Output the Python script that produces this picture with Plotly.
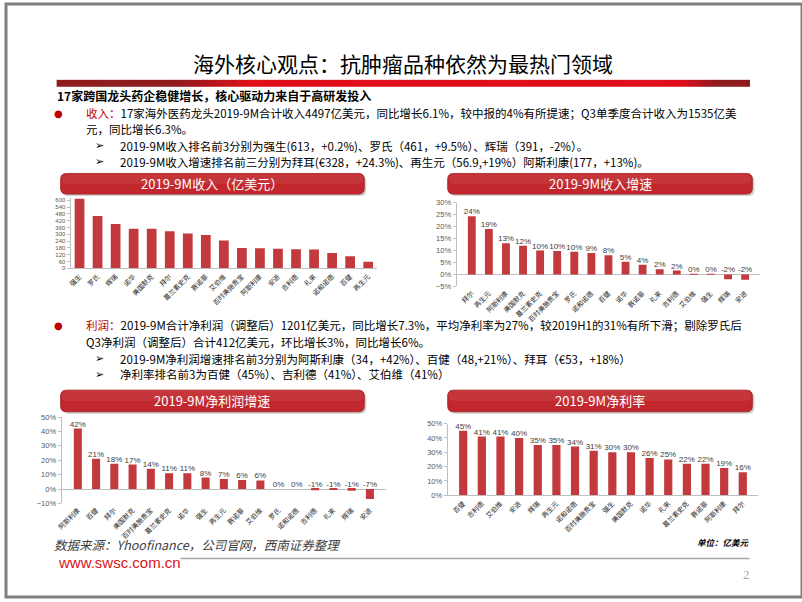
import plotly.graph_objects as go
import numpy as np

W, H = 802, 602
RED = "#C23A3D"

# ---------------- data ----------------
rev_names = ["强生", "罗氏", "辉瑞", "诺华", "美国默克", "拜尔", "葛兰素史克", "赛诺菲", "艾伯维",
             "百时美施贵宝", "阿斯利康", "安进", "吉利德", "礼来", "诺和诺德", "百健", "再生元"]
rev_values = [613, 461, 391, 350, 349, 328, 308, 293, 246, 180, 177, 173, 168, 165, 136, 107, 57]

growth_names = ["拜尔", "再生元", "阿斯利康", "美国默克", "葛兰素史克", "百时美施贵宝", "罗氏", "诺和诺德",
                "百健", "诺华", "赛诺菲", "礼来", "吉利德", "艾伯维", "强生", "辉瑞", "安进"]
growth_values = [24.3, 19.0, 13.0, 12.0, 10.0, 9.8, 9.5, 9.0, 8.0, 5.3, 4.1, 2.2, 1.6, 0.3, 0.2, -2.0, -2.2]

np_growth_names = ["阿斯利康", "百健", "拜尔", "美国默克", "百时美施贵宝", "葛兰素史克", "诺华", "强生",
                   "再生元", "赛诺菲", "艾伯维", "罗氏", "诺和诺德", "吉利德", "礼来", "辉瑞", "安进"]
np_growth_values = [42, 21, 17.6, 17, 14, 11, 11, 8, 7, 6.3, 6, 0, 0, -0.8, -0.7, -1.2, -7]

margin_names = ["百健", "吉利德", "艾伯维", "安进", "辉瑞", "再生元", "诺和诺德", "百时美施贵宝", "强生",
                "美国默克", "诺华", "礼来", "葛兰素史克", "赛诺菲", "阿斯利康", "拜尔"]
margin_values = [45, 41, 41, 40, 35, 35, 34, 31, 30, 30, 26, 25, 22, 22, 19, 16]

chart_titles = ["2019-9M收入（亿美元）", "2019-9M收入增速", "2019-9M净利润增速", "2019-9M净利率"]


def fx(x):
    return x / W


def fy(y):
    return 1 - y / H


fig = go.Figure()

# (names, values, x px span, y px span (top,bottom), range, dtick, suffix, labels, gap, y tick font)
charts = [
    (rev_names, rev_values, (65, 374), (197, 268.3), [0, 620], 60, "", False, 0.46, 6),
    (growth_names, growth_values, (454, 760), (201.7, 286.7), [-5, 30], 5, "%", True, 0.54, 7.5),
    (np_growth_names, np_growth_values, (56, 383), (419.3, 507), [-10, 50], 10, "%", True, 0.56, 7.5),
    (margin_names, margin_values, (445, 758), (426, 498.7), [0, 50], 10, "%", True, 0.56, 7.5),
]

layout_axes = {}
for i, (names, vals, xp, yp, rng, dt, suf, lab, gap, yfs) in enumerate(charts):
    n = "" if i == 0 else str(i + 1)
    xa, ya = "x" + n, "y" + n
    fig.add_trace(go.Bar(x=names, y=vals, marker_color=RED, marker_line_width=0, width=1 - gap,
                         xaxis=xa, yaxis=ya, showlegend=False, hoverinfo="skip"))
    if lab:
        vv = np.array(vals, dtype=float)
        fig.add_trace(go.Scatter(x=names, y=np.maximum(vv, 0), mode="text",
                                 text=[f"{v:.0f}%" for v in vv], textposition="top center",
                                 textfont=dict(family="Liberation Sans, Arial", size=8, color="#404040"),
                                 xaxis=xa, yaxis=ya, showlegend=False, cliponaxis=False,
                                 hoverinfo="skip"))
    layout_axes["xaxis" + n] = dict(
        domain=[fx(xp[0]), fx(xp[1])], anchor=ya, type="category",
        tickmode="linear", dtick=1, tickangle=-45, ticklabelstandoff=1,
        tickfont=dict(family="Noto Sans CJK SC", size=6.7, color="#262626"),
        showline=(rng[0] == 0), linecolor="#BFBFBF", linewidth=1,
        showgrid=False, zeroline=False, ticks="", fixedrange=True,
    )
    layout_axes["yaxis" + n] = dict(
        domain=[fy(yp[1]), fy(yp[0])], anchor=xa, range=rng, dtick=dt, tick0=0,
        ticksuffix=suf, tickfont=dict(family="Liberation Sans, Arial", size=yfs, color="#595959"),
        showline=True, linecolor="#BFBFBF", linewidth=1, ticks="outside", ticklen=3,
        tickcolor="#BFBFBF", showgrid=False,
        zeroline=(rng[0] < 0), zerolinecolor="#BFBFBF", zerolinewidth=1, fixedrange=True,
    )

shapes = []
annotations = []

# page border
shapes.append(dict(type="rect", xref="paper", yref="paper", x0=0, x1=1, y0=0, y1=1,
                   line=dict(color="#808080", width=3), fillcolor="rgba(0,0,0,0)"))


def lerp(c1, c2, t):
    return tuple(int(round(a + (b - a) * t)) for a, b in zip(c1, c2))


# title red bar, gradient approximated by thin strips
DARK = (142, 27, 30)
BRIGHT = (224, 14, 26)
x = 51
while x < 749:
    x2 = min(x + 4, 749)
    xm = (x + x2) / 2
    if xm < 170:
        c = DARK
    elif xm < 250:
        c = lerp(DARK, BRIGHT, (xm - 170) / 80)
    elif xm < 680:
        c = BRIGHT
    elif xm < 715:
        c = lerp(BRIGHT, DARK, (xm - 680) / 35)
    else:
        c = DARK
    shapes.append(dict(type="rect", xref="paper", yref="paper", x0=fx(x), x1=fx(x2 + 0.6),
                       y0=fy(84), y1=fy(77), line=dict(width=0), fillcolor="rgb(%d,%d,%d)" % c))
    x = x2


def rounded(x0, y0, x1, y1, r):
    rx, ry = r / W, r / H
    X0, X1 = fx(x0), fx(x1)
    Yt, Yb = fy(y0), fy(y1)
    return (f"M {X0+rx},{Yt} L {X1-rx},{Yt} Q {X1},{Yt} {X1},{Yt-ry} L {X1},{Yb+ry} "
            f"Q {X1},{Yb} {X1-rx},{Yb} L {X0+rx},{Yb} Q {X0},{Yb} {X0},{Yb+ry} "
            f"L {X0},{Yt-ry} Q {X0},{Yt} {X0+rx},{Yt} Z")


banners = [(55, 172, 361, 193), (445, 172, 752, 193), (55, 392, 361, 414), (445, 392, 752, 414)]
for (bx0, by0, bx1, by1), t in zip(banners, chart_titles):
    shapes.append(dict(type="path", xref="paper", yref="paper",
                       path=rounded(bx0 + 2, by0 + 2, bx1 + 2, by1 + 2, 6),
                       fillcolor="rgba(120,120,120,0.35)", line=dict(width=0)))
    shapes.append(dict(type="path", xref="paper", yref="paper",
                       path=rounded(bx0, by0, bx1, by1, 6),
                       fillcolor="#C1272D", line=dict(color="#A51F24", width=0.8)))
    shapes.append(dict(type="path", xref="paper", yref="paper",
                       path=rounded(bx0 + 1, by0 + 1, bx1 - 1, (by0 + by1) / 2, 5),
                       fillcolor="rgba(255,255,255,0.07)", line=dict(width=0)))
    annotations.append(dict(xref="paper", yref="paper", x=fx((bx0 + bx1) / 2), y=fy((by0 + by1) / 2),
                            text=t, showarrow=False, xanchor="center", yanchor="middle",
                            font=dict(family="Noto Sans CJK SC", size=13, color="white")))

# footer line
shapes.append(dict(type="line", xref="paper", yref="paper", x0=fx(176), x1=fx(749), y0=fy(563), y1=fy(563),
                   line=dict(color="#A6A6A6", width=1.5)))


def txt(x, y, s, size=12, color="#000000", anchor="left", family="Noto Sans CJK SC"):
    annotations.append(dict(xref="paper", yref="paper", x=fx(x), y=fy(y), text=s, showarrow=False,
                            xanchor=anchor, yanchor="middle",
                            font=dict(family=family, size=size, color=color)))


CRED = "#C00000"
txt(400, 60, "海外核心观点：抗肿瘤品种依然为最热门领域", size=21, anchor="center")
txt(49, 93, "<b>17家跨国龙头药企稳健增长，核心驱动力来自于高研发投入</b>", size=12)
txt(53, 111, "●", size=10, color=CRED, family="DejaVu Sans", anchor="center")
txt(79, 111, f'<span style="color:{CRED}">收入：</span>17家海外医药龙头2019-9M合计收入4497亿美元，同比增长6.1%，较中报的4%有所提速；Q3单季度合计收入为1535亿美', size=11.5)
txt(79, 127, "元，同比增长6.3%。", size=11.5)
txt(94, 144, "➢", size=11, family="DejaVu Sans", anchor="center")
txt(113, 144, "2019-9M收入排名前3分别为强生(613，+0.2%)、罗氏（461，+9.5%）、辉瑞（391，-2%）。", size=11.5)
txt(94, 160, "➢", size=11, family="DejaVu Sans", anchor="center")
txt(113, 160, "2019-9M收入增速排名前三分别为拜耳(€328，+24.3%)、再生元（56.9,+19%）阿斯利康(177，+13%)。", size=11.5)
txt(53, 326, "●", size=10, color=CRED, family="DejaVu Sans", anchor="center")
txt(79, 326, f'<span style="color:{CRED}">利润：</span>2019-9M合计净利润（调整后）1201亿美元，同比增长7.3%，平均净利率为27%，较2019H1的31%有所下滑；剔除罗氏后', size=11.5)
txt(79, 343, "Q3净利润（调整后）合计412亿美元，环比增长3%，同比增长6%。", size=11.5)
txt(94, 360, "➢", size=11, family="DejaVu Sans", anchor="center")
txt(113, 360, "2019-9M净利润增速排名前3分别为阿斯利康（34，+42%）、百健（48,+21%）、拜耳（€53，+18%）", size=11.5)
txt(94, 376, "➢", size=11, family="DejaVu Sans", anchor="center")
txt(113, 376, "净利率排名前3为百健（45%）、吉利德（41%）、艾伯维（41%）", size=11.5)
txt(46, 548.5, "<i>数据来源：Yhoofinance，公司官网，西南证券整理</i>", size=12.5, color="#404040")
txt(752, 546, "<b><i>单位：亿美元</i></b>", size=8.5, anchor="right")
txt(50, 567, "www.swsc.com.cn", size=15, color="#D7141A", family="Liberation Sans, Arial")
txt(752, 579, "2", size=13, color="#A6A6A6", anchor="right", family="Liberation Serif")

fig.update_layout(
    width=W, height=H, margin=dict(l=0, r=0, t=0, b=0),
    paper_bgcolor="white", plot_bgcolor="white",
    font=dict(family="Noto Sans CJK SC, Arial"),
    shapes=shapes, annotations=annotations, showlegend=False,
    **layout_axes,
)

post = ("var s=document.createElement('style');"
        "s.innerHTML='html,body{margin:0 !important;padding:0 !important;overflow:hidden !important;}';"
        "document.head.appendChild(s);"
        "var d=document.getElementById('{plot_id}');"
        "d.style.position='absolute';d.style.left='0px';d.style.top='0px';"
        "window.scrollTo(0,0);")

fig.write_html("out.html", config={"displayModeBar": False}, post_script=post)
